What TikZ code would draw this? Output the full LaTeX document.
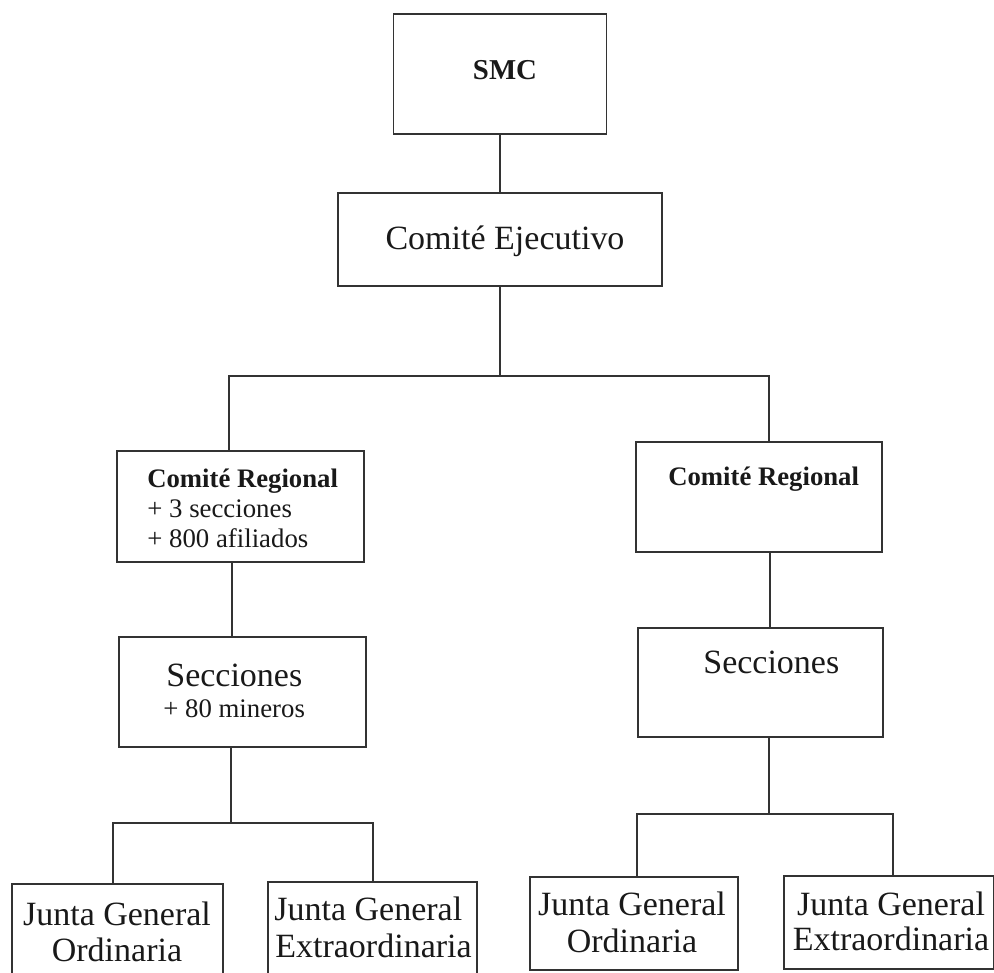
\documentclass[tikz,border=0pt]{standalone}
\usepackage{fontspec}
\setmainfont{Liberation Serif}
\usepackage{tikz}
\usetikzlibrary{calc}

\begin{document}
\begin{tikzpicture}[x=0.02cm,y=-0.02cm,
		caja/.style={draw=black!80, line width=1pt, rectangle, inner sep=0pt},
		linea/.style={draw=black!80, line width=1pt},
		grande/.style={font=\fontsize{19.35}{23}\selectfont, text=black!90, inner sep=0pt},
		chico/.style={font=\fontsize{15.25}{18}\selectfont, text=black!90, inner sep=0pt},
		negrita/.style={font=\bfseries\fontsize{15.2}{18}\selectfont, text=black!90, inner sep=0pt}]
		\useasboundingbox (0,0) rectangle (994,973);
		\clip (0,0) rectangle (994,973);
		\node (smc) at (500,74) [caja, minimum width=4.26cm, minimum height=2.40cm] {};
		\node (smcT) at (505,80) [negrita, anchor=base, font=\bfseries\fontsize{16.4}{19}\selectfont] {SMC};
		\node (ce) at (500,239.5) [caja, minimum width=6.48cm, minimum height=1.86cm] {};
		\node (ceT) at (505,250) [grande, anchor=base] {Comité Ejecutivo};
		\node (cr1) at (240.5,506.5) [caja, minimum width=4.94cm, minimum height=2.22cm] {};
		\node (cr1T) at (147,487) [negrita, anchor=base west] {Comité Regional};
		\node (cr1A) at (147,517) [chico, anchor=base west] {+ 3 secciones};
		\node (cr1B) at (147,547) [chico, anchor=base west] {+ 800 afiliados};
		\node (cr2) at (759,497) [caja, minimum width=4.92cm, minimum height=2.20cm] {};
		\node (cr2T) at (668,485) [negrita, anchor=base west] {Comité Regional};
		\node (sec1) at (242.5,692) [caja, minimum width=4.94cm, minimum height=2.20cm] {};
		\node (sec1T) at (166,686) [grande, anchor=base west] {Secciones};
		\node (sec1A) at (163,717) [chico, anchor=base west] {+ 80 mineros};
		\node (sec2) at (760.5,682.5) [caja, minimum width=4.90cm, minimum height=2.18cm] {};
		\node (sec2T) at (703,673) [grande, anchor=base west] {Secciones};
		\node (jg1) at (117.5,934) [caja, minimum width=4.22cm, minimum height=2.00cm] {};
		\node (jg1A) at (117,925) [grande, anchor=base] {Junta General};
		\node (jg1B) at (117,961) [grande, anchor=base] {Ordinaria};
		\node (jg2) at (372.5,932) [caja, minimum width=4.18cm, minimum height=2.00cm] {};
		\node (jg2A) at (274,920) [grande, anchor=base west] {Junta General};
		\node (jg2B) at (275,957) [grande, anchor=base west] {Extraordinaria};
		\node (jg3) at (634,923.5) [caja, minimum width=4.16cm, minimum height=1.86cm] {};
		\node (jg3A) at (632,915) [grande, anchor=base] {Junta General};
		\node (jg3B) at (632,952) [grande, anchor=base] {Ordinaria};
		\node (jg4) at (889,922.5) [caja, minimum width=4.20cm, minimum height=1.86cm] {};
		\node (jg4A) at (891,915) [grande, anchor=base] {Junta General};
		\node (jg4B) at (891,950) [grande, anchor=base] {Extraordinaria};
		\coordinate (T) at (500,376);
		\coordinate (TL) at (229,376);
		\coordinate (TR) at (769,376);
		\coordinate (V1) at (232,600);
		\coordinate (V2) at (770,590);
		\coordinate (U1) at (231,823);
		\coordinate (UL1) at (113,823);
		\coordinate (UR1) at (373,823);
		\coordinate (U2) at (769,814);
		\coordinate (UL2) at (637,814);
		\coordinate (UR2) at (893,814);
		\draw[linea] (smc)--(ce);
		\draw[linea] (ce)--(T);
		\draw[linea] (TL |- cr1.north)--(TL)--(TR)--(TR |- cr2.north);
		\draw[linea] (cr1.south -| V1)--(sec1.north -| V1);
		\draw[linea] (cr2.south -| V2)--(sec2.north -| V2);
		\draw[linea] (sec1.south -| U1)--(U1);
		\draw[linea] (UL1 |- jg1.north)--(UL1)--(UR1)--(UR1 |- jg2.north);
		\draw[linea] (sec2.south -| U2)--(U2);
		\draw[linea] (UL2 |- jg3.north)--(UL2)--(UR2)--(UR2 |- jg4.north);
	\end{tikzpicture}
\end{document}
